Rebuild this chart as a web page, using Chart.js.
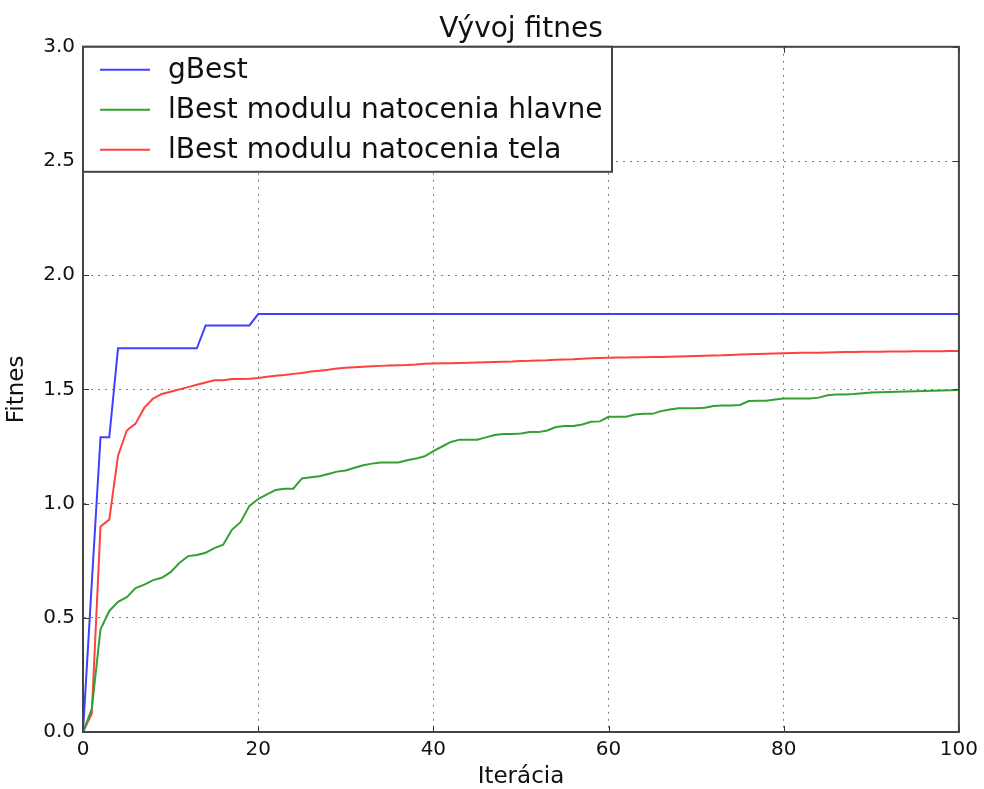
<!DOCTYPE html>
<html>
<head>
<meta charset="utf-8">
<script src="https://cdn.jsdelivr.net/npm/chart.js@4"></script>
<style>
  html, body { margin: 0; padding: 0; background: #fff; }
  #wrap { width: 984px; height: 789px; }
</style>
</head>
<body>
<div id="wrap"><canvas id="fit"></canvas></div>
<script>
// Vývoj fitnes – gBest a lBest po iteráciách (hodnoty odčítané z grafu)
const seriesNames = ["gBest", "lBest modulu natocenia hlavne", "lBest modulu natocenia tela"];

const gBest = [
  0, 0.65, 1.29, 1.29, 1.68, 1.68, 1.68, 1.68, 1.68, 1.68,
  1.68, 1.68, 1.68, 1.68, 1.78, 1.78, 1.78, 1.78, 1.78, 1.78,
  1.83, 1.83, 1.83, 1.83, 1.83, 1.83, 1.83, 1.83, 1.83, 1.83,
  1.83, 1.83, 1.83, 1.83, 1.83, 1.83, 1.83, 1.83, 1.83, 1.83,
  1.83, 1.83, 1.83, 1.83, 1.83, 1.83, 1.83, 1.83, 1.83, 1.83,
  1.83, 1.83, 1.83, 1.83, 1.83, 1.83, 1.83, 1.83, 1.83, 1.83,
  1.83, 1.83, 1.83, 1.83, 1.83, 1.83, 1.83, 1.83, 1.83, 1.83,
  1.83, 1.83, 1.83, 1.83, 1.83, 1.83, 1.83, 1.83, 1.83, 1.83,
  1.83, 1.83, 1.83, 1.83, 1.83, 1.83, 1.83, 1.83, 1.83, 1.83,
  1.83, 1.83, 1.83, 1.83, 1.83, 1.83, 1.83, 1.83, 1.83, 1.83,
  1.83
];

const lBestHlavne = [
  0, 0.10, 0.45, 0.53, 0.57, 0.59, 0.63, 0.645, 0.665, 0.675,
  0.70, 0.74, 0.77, 0.775, 0.785, 0.805, 0.82, 0.885, 0.92, 0.99,
  1.02, 1.04, 1.06, 1.065, 1.065, 1.11, 1.115, 1.12, 1.13, 1.14,
  1.145, 1.157, 1.168, 1.175, 1.18, 1.18, 1.18, 1.19, 1.197, 1.207,
  1.23, 1.25, 1.27, 1.28, 1.28, 1.28, 1.29, 1.30, 1.305, 1.305,
  1.307, 1.313, 1.313, 1.32, 1.335, 1.34, 1.34, 1.346, 1.358, 1.36,
  1.38, 1.38, 1.38, 1.39, 1.393, 1.393, 1.405, 1.412, 1.417, 1.417,
  1.417, 1.42, 1.427, 1.43, 1.43, 1.432, 1.449, 1.45, 1.45, 1.456,
  1.46, 1.46, 1.46, 1.46, 1.464, 1.474, 1.478, 1.478, 1.48, 1.483,
  1.486, 1.488, 1.489, 1.49, 1.491, 1.492, 1.493, 1.494, 1.495, 1.496,
  1.497
];

const lBestTela = [
  0, 0.08, 0.90, 0.93, 1.21, 1.32, 1.35, 1.42, 1.46, 1.48,
  1.49, 1.50, 1.51, 1.52, 1.53, 1.54, 1.54, 1.545, 1.545, 1.547,
  1.55, 1.555, 1.56, 1.563, 1.568, 1.572, 1.578, 1.582, 1.586, 1.592,
  1.595, 1.597, 1.599, 1.601, 1.603, 1.605, 1.606, 1.607, 1.609, 1.612,
  1.613, 1.614, 1.615, 1.616, 1.617, 1.618, 1.619, 1.62, 1.621, 1.622,
  1.624, 1.625, 1.627, 1.628, 1.63, 1.631, 1.632, 1.634, 1.636, 1.638,
  1.639, 1.64, 1.64, 1.641, 1.641, 1.642, 1.642, 1.643, 1.644, 1.645,
  1.646, 1.647, 1.648, 1.649, 1.651, 1.653, 1.654, 1.655, 1.656, 1.657,
  1.658, 1.659, 1.66, 1.66, 1.661, 1.662, 1.663, 1.664, 1.664, 1.665,
  1.665, 1.665, 1.666, 1.666, 1.666, 1.667, 1.667, 1.667, 1.667, 1.668,
  1.668
];

const iterations = gBest.map((_, i) => i);
const colors = ["#4040ff", "#34a034", "#ff4040"];
const FONT = "'DejaVu Sans', sans-serif";

const toPoints = (arr) => arr.map((v, i) => ({ x: iterations[i], y: v }));

// rámček okolo grafu + vnútorné tick značky (matplotlib classic)
const frame = {
  id: "frame",
  afterDraw(chart) {
    const { ctx, chartArea: a, scales } = chart;
    ctx.save();
    ctx.strokeStyle = "#333";
    ctx.lineWidth = 1;
    scales.x.ticks.forEach((t) => {
      const px = Math.round(scales.x.getPixelForValue(t.value)) + 0.5;
      ctx.beginPath();
      ctx.moveTo(px, a.bottom); ctx.lineTo(px, a.bottom - 6);
      ctx.moveTo(px, a.top); ctx.lineTo(px, a.top + 6);
      ctx.stroke();
    });
    scales.y.ticks.forEach((t) => {
      const py = Math.round(scales.y.getPixelForValue(t.value)) + 0.5;
      ctx.beginPath();
      ctx.moveTo(a.left, py); ctx.lineTo(a.left + 6, py);
      ctx.moveTo(a.right, py); ctx.lineTo(a.right - 6, py);
      ctx.stroke();
    });
    ctx.lineWidth = 2;
    ctx.strokeStyle = "#444";
    ctx.strokeRect(a.left, a.top, a.right - a.left, a.bottom - a.top);
    ctx.restore();
  },
};

// legenda vo vnútri grafu, vľavo hore
const boxLegend = {
  id: "boxLegend",
  afterDraw(chart) {
    const { ctx, chartArea: a } = chart;
    const w = 529, h = 125;
    ctx.save();
    ctx.fillStyle = "#fff";
    ctx.fillRect(a.left, a.top, w, h);
    ctx.strokeStyle = "#444";
    ctx.lineWidth = 2;
    ctx.strokeRect(a.left, a.top, w, h);
    ctx.font = "28px " + FONT;
    ctx.textBaseline = "middle";
    chart.data.datasets.forEach((ds, i) => {
      const y = a.top + 23 + i * 40;
      ctx.strokeStyle = ds.borderColor;
      ctx.lineWidth = 2;
      ctx.beginPath();
      ctx.moveTo(a.left + 17, y);
      ctx.lineTo(a.left + 67, y);
      ctx.stroke();
      ctx.fillStyle = "#111";
      ctx.fillText(ds.label, a.left + 85, y + 1);
    });
    ctx.restore();
  },
};

const gridStyle = {
  color: "rgba(0,0,0,0.5)",
  lineWidth: 1,
  tickLength: 0,
  drawTicks: false,
};
const gridBorder = { display: true, color: "#444", width: 2, dash: [2, 5] };

new Chart(document.getElementById("fit"), {
  type: "line",
  data: {
    datasets: [
      { label: seriesNames[0], data: toPoints(gBest), borderColor: colors[0] },
      { label: seriesNames[1], data: toPoints(lBestHlavne), borderColor: colors[1] },
      { label: seriesNames[2], data: toPoints(lBestTela), borderColor: colors[2] },
    ].map((d) => ({ ...d, borderWidth: 2, pointRadius: 0, tension: 0, fill: false })),
  },
  options: {
    responsive: true,
    maintainAspectRatio: false,
    animation: false,
    layout: { padding: { top: 0, right: 23, left: 0, bottom: 0 } },
    plugins: {
      legend: { display: false },
      tooltip: { enabled: false },
      title: {
        display: true,
        fullSize: false,
        text: "Vývoj fitnes",
        color: "#111",
        font: { family: FONT, size: 28, weight: "normal", lineHeight: 1.1 },
        padding: { top: 14, bottom: 2 },
      },
    },
    scales: {
      x: {
        type: "linear",
        min: 0,
        max: 100,
        ticks: {
          stepSize: 20,
          color: "#111",
          padding: 6,
          maxRotation: 0,
          font: { family: FONT, size: 20 },
        },
        grid: { ...gridStyle },
        border: { ...gridBorder },
        title: {
          display: true,
          text: "Iterácia",
          color: "#111",
          font: { family: FONT, size: 23, lineHeight: 1 },
          padding: { top: 0, bottom: 0 },
        },
        afterFit(s) { s.height = 57; },
      },
      y: {
        min: 0,
        max: 3,
        ticks: {
          stepSize: 0.5,
          color: "#111",
          padding: 8,
          font: { family: FONT, size: 20 },
          callback: (v) => Number(v).toFixed(1),
        },
        grid: { ...gridStyle },
        border: { ...gridBorder },
        title: {
          display: true,
          text: "Fitnes",
          color: "#111",
          font: { family: FONT, size: 23, lineHeight: 1 },
          padding: { top: 6, bottom: 0 },
        },
        afterFit(s) { s.width = 83; },
      },
    },
  },
  plugins: [frame, boxLegend],
});
</script>
</body>
</html>
